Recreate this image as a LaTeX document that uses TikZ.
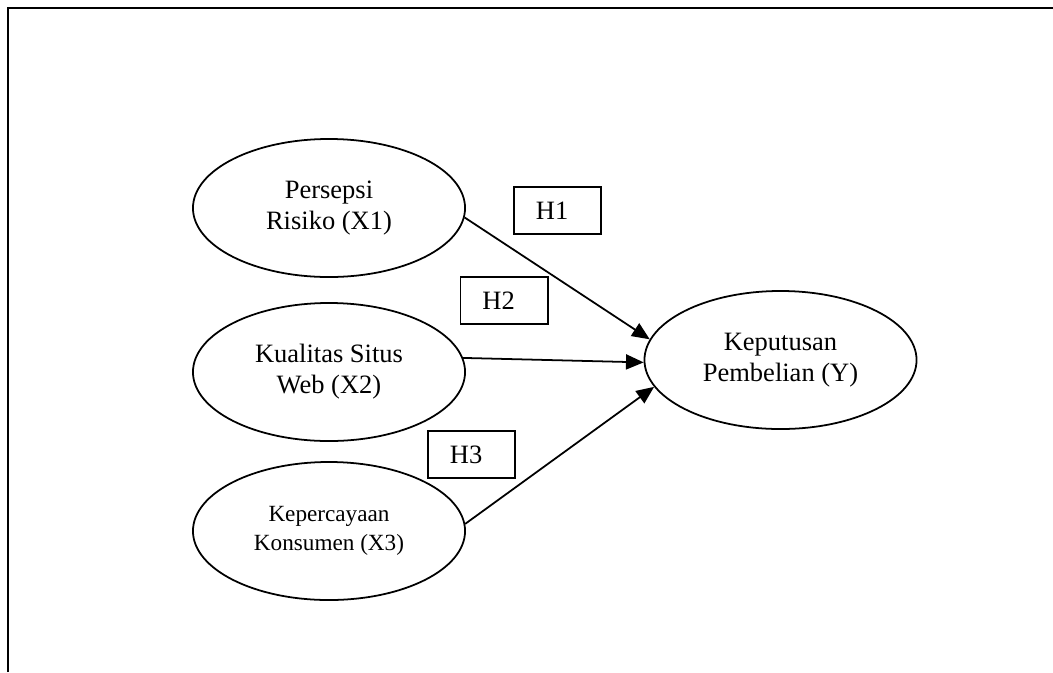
\documentclass[tikz,border=0pt]{standalone}
\usepackage{fontspec}
\setmainfont{Liberation Serif}
\usetikzlibrary{arrows.meta,shapes.geometric}
\begin{document}
\begin{tikzpicture}[x=0.4528pt, y=-0.4528pt, line width=0.8pt, >={Triangle[length=8pt,width=6.8pt]},
var node/.style={ellipse,draw,minimum width=123.2pt,minimum height=62.5pt,inner sep=0pt,align=center,font=\fontsize{12}{14}\selectfont},
hyp node/.style={rectangle,draw,inner xsep=10pt,text width=19.5pt,align=left,minimum height=21.3pt,font=\fontsize{12}{14}\selectfont}]
\useasboundingbox (0,0) rectangle (1053,672);
\draw[line width=1.2pt] (8,672) -- (8,8) -- (1053,8);
\node[var node] (x1) at (329,208) {Persepsi\\Risiko (X1)};
\node[var node] (x2) at (329,372) {Kualitas Situs\\Web (X2)};
\node[var node,font=\fontsize{10.5}{13}\selectfont] (x3) at (329,531) {Kepercayaan\\Konsumen (X3)};
\node[var node] (y) at (780.5,360) {Keputusan\\Pembelian (Y)};
\node[hyp node] (h1) at (557.5,210.5) {H1};
\node[hyp node] (h2) at (504,300.5) {H2};
\node[hyp node] (h3) at (471.5,454.5) {H3};
\draw (x1.-4) edge[->] (y.171);
\draw (x2.6) edge[->] (y.181);
\draw (x3.3) edge[->] (y.192);
\end{tikzpicture}
\end{document}
